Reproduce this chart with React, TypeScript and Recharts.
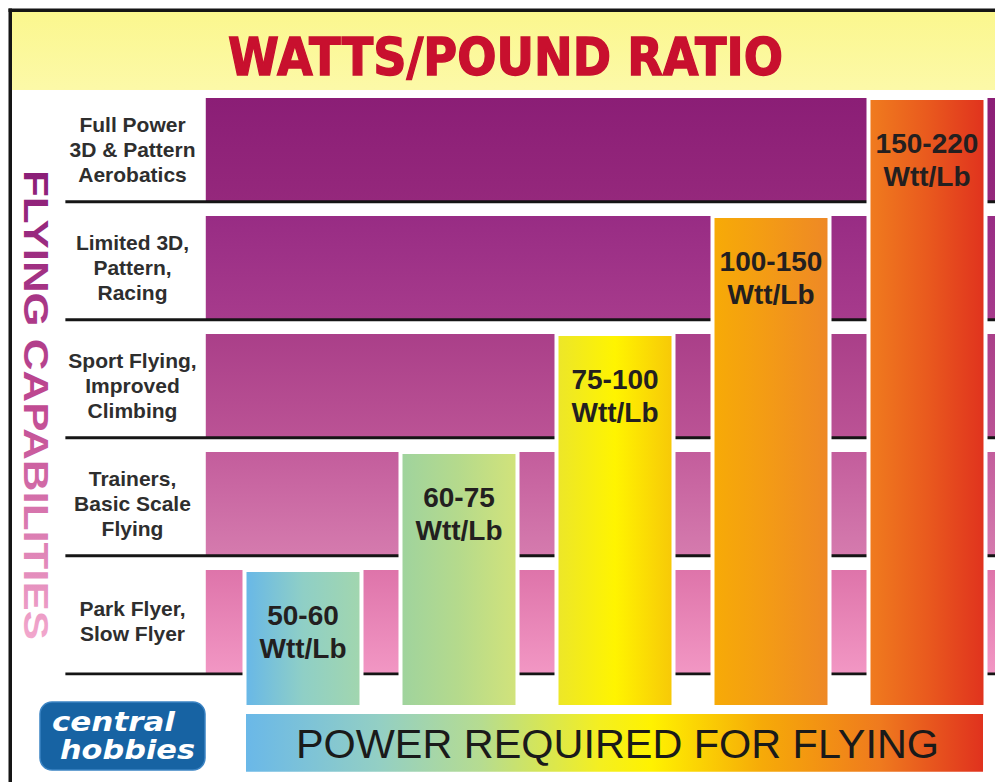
import React from 'react';
import { ComposedChart, Bar, Cell, XAxis, YAxis, ReferenceArea, LabelList } from 'recharts';

// rows of the chart, bottom to top
const capabilities = [
  ['Park Flyer,', 'Slow Flyer'],
  ['Trainers,', 'Basic Scale', 'Flying'],
  ['Sport Flying,', 'Improved', 'Climbing'],
  ['Limited 3D,', 'Pattern,', 'Racing'],
  ['Full Power', '3D & Pattern', 'Aerobatics'],
];

// power columns, left to right
const powerRanges = ['50-60', '60-75', '75-100', '100-150', '150-220'];
const powerUnit = 'Wtt/Lb';
// highest capability row each power range reaches
const capabilityReached = [0, 1, 2, 3, 4];

const chartTitle = 'WATTS/POUND RATIO';
const yTitle = 'FLYING CAPABILITIES';
const xTitle = 'POWER REQUIRED FOR FLYING';

// layout in axis units
const BAND_H = 0.88;
const COL_FLOOR = -0.28;
const X_BAR = [-0.83, -0.34];
const HALF_FILL = 56.5 / 156;

const bandColors = [
  ['#de74aa', '#f297c4'],
  ['#c35d9c', '#d57bae'],
  ['#aa3f89', '#bb5395'],
  ['#982c84', '#a73b8c'],
  ['#8b1e76', '#95287c'],
];

const columnColors = [
  ['#67b7e8', '#8fcfc6', '#a2d6ae'],
  ['#9fd39e', '#b5da8c', '#d2e37a'],
  ['#ece62a', '#fff400', '#f7c808'],
  ['#f7ab06', '#f39a16', '#ee8826'],
  ['#f07c1e', '#e95a1e', '#e0321e'],
];

const columnData = powerRanges.map((range, i) => ({
  range,
  slot: i + 0.5,
  span: [COL_FLOOR, capabilityReached[i] + BAND_H],
}));

const rowTicks = capabilities.map((_, i) => i + BAND_H / 2);

const RowTick = (props: any) => {
  const { x, y, payload } = props;
  const idx = rowTicks.findIndex((t) => Math.abs(t - payload.value) < 1e-6);
  const lines = capabilities[idx] || [];
  const cx = x - 92;
  return (
    <text
      textAnchor="middle"
      fontFamily="'Liberation Sans', Arial, sans-serif"
      fontWeight="bold"
      fontSize={21}
      fill="#2e2e2e"
    >
      {lines.map((l, i) => (
        <tspan key={i} x={cx} y={y + (i - (lines.length - 1) / 2) * 25 + 7}>
          {l}
        </tspan>
      ))}
    </text>
  );
};

const ColumnLabel = (props: any) => {
  const vb = props.viewBox || props;
  const { x, y, width, height } = vb;
  const top = Math.min(y, y + height);
  const cx = x + width / 2;
  return (
    <text
      textAnchor="middle"
      fontFamily="'Liberation Sans', Arial, sans-serif"
      fontWeight="bold"
      fontSize={28}
      fill="#231f20"
    >
      <tspan x={cx} y={top + 55}>{props.value}</tspan>
      <tspan x={cx} y={top + 88}>{powerUnit}</tspan>
    </text>
  );
};

const XTitle = (props: any) => {
  const { x, y, width, height } = props.viewBox;
  return (
    <text
      x={x + width / 2 + 3}
      y={y + height / 2 + 15}
      textAnchor="middle"
      fontFamily="'Liberation Sans', Arial, sans-serif"
      fontSize={41}
      fill="#1a1a1a"
      textLength={643}
      lengthAdjust="spacingAndGlyphs"
    >
      {xTitle}
    </text>
  );
};

export default function App() {
  return (
    <div
      style={{
        position: 'absolute',
        left: 0,
        top: 0,
        width: 995,
        height: 782,
        overflow: 'hidden',
        background: '#ffffff',
      }}
    >
      <svg width={995} height={782} style={{ position: 'absolute', left: 0, top: 0 }}>
        <defs>
          <linearGradient id="header" x1="0" y1="0" x2="0" y2="1">
            <stop offset="0%" stopColor="#fbf78e" />
            <stop offset="100%" stopColor="#fcf9a8" />
          </linearGradient>
          <linearGradient id="vlabel" x1="0" y1="0" x2="1" y2="0">
            <stop offset="0%" stopColor="#8a1e77" />
            <stop offset="50%" stopColor="#c04a92" />
            <stop offset="100%" stopColor="#f2a8cd" />
          </linearGradient>
        </defs>
        <rect x={12} y={12} width={990} height={78} fill="url(#header)" />
        <rect x={8.5} y={8.5} width={1000} height={3.5} fill="#151515" />
        <rect x={8.5} y={8.5} width={3.5} height={780} fill="#151515" />
        <text
          x={505.5}
          y={75}
          textAnchor="middle"
          fontFamily="'DejaVu Sans', sans-serif"
          fontWeight="bold"
          fontSize={52}
          fill="#c8102e"
          stroke="#c8102e"
          strokeWidth={1.4}
          textLength={555}
          lengthAdjust="spacingAndGlyphs"
        >
          {chartTitle}
        </text>
        <text
          x={36}
          y={405}
          transform="rotate(90 36 405)"
          textAnchor="middle"
          dominantBaseline="central"
          fontFamily="'Liberation Sans', Arial, sans-serif"
          fontWeight="bold"
          fontSize={35}
          fill="url(#vlabel)"
          textLength={470}
          lengthAdjust="spacingAndGlyphs"
        >
          {yTitle}
        </text>
        <rect x={40} y={702} width={165} height={68} rx={12} fill="#1763a3" stroke="#3b84c4" strokeWidth={1.5} />
        <text
          x={113.5}
          y={731}
          textAnchor="middle"
          fontFamily="'DejaVu Sans', sans-serif"
          fontWeight="bold"
          fontStyle="italic"
          fontSize={27}
          fill="#ffffff"
          textLength={123}
          lengthAdjust="spacingAndGlyphs"
        >
          central
        </text>
        <text
          x={127.5}
          y={759}
          textAnchor="middle"
          fontFamily="'DejaVu Sans', sans-serif"
          fontWeight="bold"
          fontStyle="italic"
          fontSize={27}
          fill="#ffffff"
          textLength={135}
          lengthAdjust="spacingAndGlyphs"
        >
          hobbies
        </text>
      </svg>

      <div style={{ position: 'absolute', left: 0, top: 0 }}>
        <ComposedChart
          width={1010}
          height={782}
          data={columnData}
          margin={{ top: 98, right: 5.5, bottom: 9, left: 24.5 }}
        >
          <defs>
            {bandColors.map((c, i) => (
              <linearGradient key={i} id={`band${i}`} x1="0" y1="0" x2="0" y2="1">
                <stop offset="0%" stopColor={c[0]} />
                <stop offset="100%" stopColor={c[1]} />
              </linearGradient>
            ))}
            {columnColors.map((c, i) => (
              <linearGradient key={i} id={`col${i}`} x1="0" y1="0" x2="1" y2="0">
                <stop offset="0%" stopColor={c[0]} />
                <stop offset="50%" stopColor={c[1]} />
                <stop offset="100%" stopColor={c[2]} />
              </linearGradient>
            ))}
            <linearGradient id="powerBar" x1="0" y1="0" x2="1" y2="0">
              <stop offset="0%" stopColor="#6ab8e8" />
              <stop offset="18%" stopColor="#93cfc4" />
              <stop offset="32%" stopColor="#b6dc90" />
              <stop offset="48%" stopColor="#f4ef20" />
              <stop offset="55%" stopColor="#fff200" />
              <stop offset="70%" stopColor="#f6aa08" />
              <stop offset="86%" stopColor="#ef7a1e" />
              <stop offset="100%" stopColor="#e0321e" />
            </linearGradient>
          </defs>

          <XAxis dataKey="range" hide />
          <XAxis xAxisId="grid" dataKey="slot" type="number" domain={[0, 5]} allowDataOverflow hide />
          <YAxis
            type="number"
            domain={[-0.84, 4.88]}
            allowDataOverflow
            ticks={rowTicks}
            interval={0}
            width={200}
            axisLine={false}
            tickLine={false}
            tickSize={0}
            tickMargin={0}
            tick={(p: any) => <RowTick {...p} />}
          />

          {capabilities.map((_, i) => (
            <ReferenceArea
              key={`band${i}`}
              xAxisId="grid"
              x1={-0.12}
              x2={5}
              y1={i}
              y2={i + BAND_H}
              fill={`url(#band${i})`}
              fillOpacity={1}
              stroke="none"
              ifOverflow="visible"
            />
          ))}
          {capabilities.map((_, i) => (
            <ReferenceArea
              key={`line${i}`}
              xAxisId="grid"
              x1={-1.02}
              x2={5}
              y1={i - 0.0127}
              y2={i + 0.0127}
              fill="#151515"
              fillOpacity={1}
              stroke="none"
              ifOverflow="visible"
            />
          ))}
          <ReferenceArea
            xAxisId="grid"
            x1={0.5 - HALF_FILL}
            x2={powerRanges.length - 0.5 + HALF_FILL}
            y1={X_BAR[0]}
            y2={X_BAR[1]}
            fill="url(#powerBar)"
            fillOpacity={1}
            stroke="none"
            ifOverflow="visible"
            label={(p: any) => <XTitle {...p} />}
          />

          <Bar dataKey="span" barSize={117} stroke="#ffffff" strokeWidth={4} isAnimationActive={false}>
            {columnData.map((_, i) => (
              <Cell key={i} fill={`url(#col${i})`} />
            ))}
            <LabelList dataKey="range" content={(p: any) => <ColumnLabel {...p} />} />
          </Bar>
        </ComposedChart>
      </div>
    </div>
  );
}
